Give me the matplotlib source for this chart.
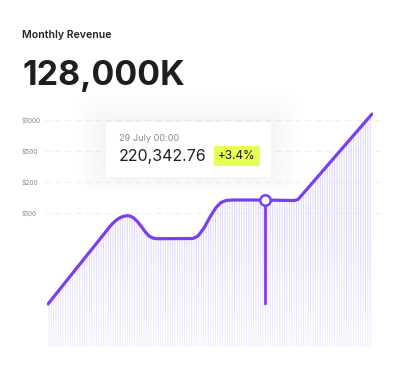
import numpy as np
import matplotlib
matplotlib.use('Agg')
import matplotlib.pyplot as plt
from matplotlib.patches import Rectangle, FancyBboxPatch

plt.rcParams['font.family'] = ['Inter', 'DejaVu Sans']
plt.rcParams['hatch.linewidth'] = 0.7
plt.rcParams['hatch.color'] = '#ddd5fb'

W, H = 396, 370

TITLE = "Monthly Revenue"
TOTAL = "128,000K"
TIP_DATE = "29 July 00:00"
TIP_VALUE = "220,342.76"
TIP_CHANGE = "+3.4%"

# revenue curve
t = [1, 60, 64, 68, 72, 76, 80, 83, 86, 90, 94, 98, 102, 106, 110, 146, 151,
     157, 163, 169, 174, 179, 185, 218, 247, 251, 325]
revenue = [46, 119.8, 124.8, 128.8, 131.8, 133.6, 134.3, 134, 132.6, 129, 124,
           118.5, 114, 111.9, 111.3, 111.5, 114, 122, 133, 142.5, 147.5, 149.5,
           150, 150, 149.5, 150.5, 236]

tick_vals = [137, 168, 199, 230]
tick_labels = ["$100", "$200", "$500", "$1000"]

hover_t = 218
hover_v = 150
hover_base = 47

PURPLE = '#7b3ff2'


def fx(px):
    return px / W


def fy(py):
    return 1 - py / H


fig = plt.figure(figsize=(W / 100, H / 100), dpi=100)
fig.patch.set_facecolor('white')
ax = fig.add_axes([fx(47), fy(350), (373 - 47) / W, 250 / H])
ax.set_facecolor('none')
for s in ax.spines.values():
    s.set_visible(False)
ax.set_xticks([])
ax.set_yticks(tick_vals)
ax.set_yticklabels(tick_labels, fontsize=4.8, color='#888888')
ax.tick_params(axis='y', length=0, pad=18)
for lab in ax.get_yticklabels():
    lab.set_ha('left')

# dashed grid
ax.hlines(tick_vals, -2, 338, colors='#efefef', linewidth=0.8,
          linestyles=(0, (5, 4)), clip_on=False, zorder=0)

# hatched fill under the line
ax.fill_between(t, revenue, 3, facecolor='none', edgecolor='#ddd5fb',
                hatch='|||||||', linewidth=0, zorder=1)

# fade toward the bottom
grad = np.linspace(0, 1, 100).reshape(-1, 1)
cmap = matplotlib.colors.LinearSegmentedColormap.from_list(
    'fade', [(1, 1, 1, 0.6), (1, 1, 1, 0.0)])
ax.imshow(grad, extent=[0, 326, 0, 120], origin='lower', cmap=cmap,
          aspect='auto', zorder=2)
ax.set_xlim(0, 326)
ax.set_ylim(0, 250)

ax.plot(t, revenue, color=PURPLE, linewidth=2.3, solid_capstyle='round',
        solid_joinstyle='round', zorder=4)
ax.plot([hover_t, hover_t], [hover_base, hover_v], color=PURPLE,
        linewidth=2.0, zorder=4)
ax.plot([hover_t], [hover_v], marker='o', markersize=7.5,
        markerfacecolor='white', markeredgecolor=PURPLE,
        markeredgewidth=1.8, zorder=5)

# tooltip soft shadow + box
for i in range(10):
    g = 2 + i * 3
    fig.add_artist(FancyBboxPatch(
        (fx(106 - g), fy(177 + g * 0.5)), fx(165 + 2 * g), (55 + g * 1.5) / H,
        boxstyle='round,pad=0,rounding_size=0.03', transform=fig.transFigure,
        facecolor='black', edgecolor='none', alpha=0.0025, zorder=6))
fig.add_artist(Rectangle((fx(106), fy(177)), fx(165), 55 / H,
                         transform=fig.transFigure, facecolor='white',
                         edgecolor='none', zorder=7))
fig.text(fx(119), fy(140.7), TIP_DATE, fontsize=6.6, color='#8a8a8a',
         va='baseline', zorder=8)
fig.text(fx(119), fy(160.7), TIP_VALUE, fontsize=11.5, color='#222222',
         va='baseline', zorder=8)
fig.add_artist(Rectangle((fx(214), fy(166)), fx(46), 20.3 / H,
                         transform=fig.transFigure, facecolor='#e6ff52',
                         edgecolor='none', zorder=7))
fig.text(fx(237), fy(156), TIP_CHANGE, fontsize=8.5, color='#1e1e1e',
         ha='center', va='center', zorder=8)

# header
fig.text(fx(22), fy(38.3), TITLE, fontsize=7.6, fontweight='semibold',
         color='#222222', va='baseline')
fig.text(fx(22), fy(85), TOTAL, fontsize=24.5, fontweight='bold',
         color='#1e1e1e', va='baseline')

fig.savefig('out.png', dpi=100, facecolor='white')
